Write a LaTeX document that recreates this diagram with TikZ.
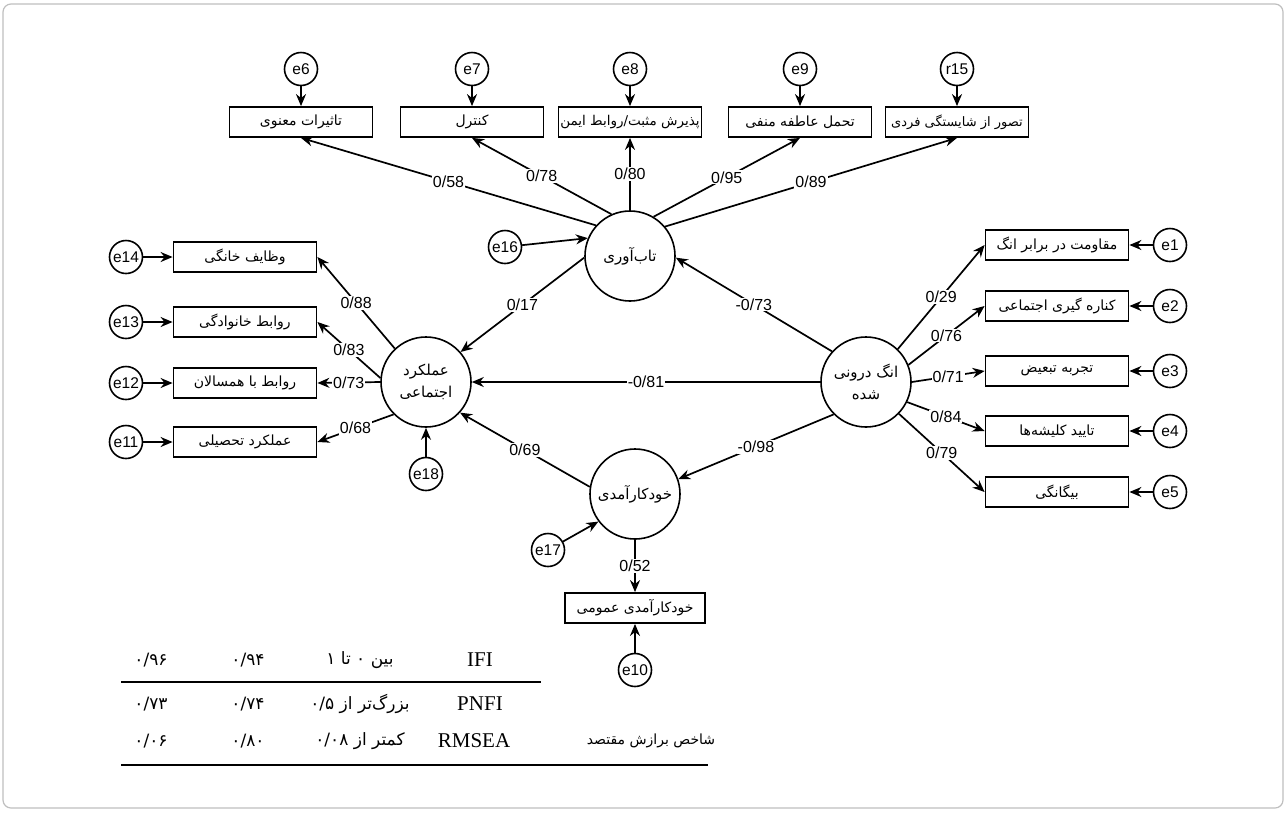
\documentclass[tikz,border=0pt]{standalone}
\usepackage{fontspec}
\setmainfont{Liberation Sans}
\newfontfamily\fafont[Script=Arabic]{DejaVu Sans}
\newfontfamily\latserif{Liberation Serif}
\TeXXeTstate=1
\usetikzlibrary{arrows.meta}
\newcommand\fatxt[1]{\beginR #1\endR}
\newcommand\negv[1]{\hbox{-}#1}
\tikzset{
  lat/.style={circle, draw, line width=1.6pt, minimum size=90pt, inner sep=0pt, align=center, font=\fafont\fontsize{15}{22}\selectfont},
  err/.style={circle, draw, line width=1.6pt, minimum size=33pt, inner sep=0pt, font=\fontsize{15.5}{15.5}\selectfont},
  obs/.style={draw, line width=1.8pt, minimum width=143pt, minimum height=30pt, inner sep=1.5pt, font=\fafont\fontsize{14}{16}\selectfont},
  arr/.style={line width=1.7pt, -{Stealth[length=12pt,width=10pt]}},
  lbl/.style={fill=white, inner sep=1pt, font=\fontsize{16}{16}\selectfont},
  tnum/.style={font=\fafont\fontsize{17}{19}\selectfont, inner sep=0pt},
  tlat/.style={font=\latserif\fontsize{21}{23}\selectfont, inner sep=0pt},
  rule/.style={line width=1.1pt}
}
\begin{document}
\begin{tikzpicture}[x=1pt,y=-1pt]
\useasboundingbox (0,0) rectangle (1287,812);
\draw[gray!50, line width=1.2pt, rounded corners=8pt] (3,4) rectangle (1283,808);

% latent variables
\node[lat] (T) at (630,256) {\fatxt{تاب‌آوری}};
\node[lat] (M) at (426,382) {\fatxt{عملکرد}\\\fatxt{اجتماعی}};
\node[lat] (A) at (866,382) {\fatxt{انگ درونی}\\\fatxt{شده}};
\node[lat] (K) at (635,494) {\fatxt{خودکارآمدی}};

% top indicators
\node[obs] (b6) at (301,122) {\fatxt{تاثیرات معنوی}};
\node[obs] (b7) at (472,122) {\fatxt{کنترل}};
\node[obs, font=\fafont\fontsize{13.5}{16}\selectfont] (b8) at (630,122) {\fatxt{پذیرش مثبت/روابط ایمن}};
\node[obs] (b9) at (800,122) {\fatxt{تحمل عاطفه منفی}};
\node[obs, font=\fafont\fontsize{13}{16}\selectfont] (b15) at (957,122) {\fatxt{تصور از شایستگی فردی}};
\node[err] (e6) at (301,69) {e6};
\node[err] (e7) at (472,69) {e7};
\node[err] (e8) at (630,69) {e8};
\node[err] (e9) at (800,69) {e9};
\node[err] (r15) at (957,69) {r15};

% left indicators
\node[obs] (b14) at (245,257) {\fatxt{وظایف خانگی}};
\node[obs] (b13) at (245,322) {\fatxt{روابط خانوادگی}};
\node[obs] (b12) at (245,383) {\fatxt{روابط با همسالان}};
\node[obs] (b11) at (245,442) {\fatxt{عملکرد تحصیلی}};
\node[err] (e14) at (126,257) {e14};
\node[err] (e13) at (126,322) {e13};
\node[err] (e12) at (126,383) {e12};
\node[err] (e11) at (126,442) {e11};

% right indicators
\node[obs] (b1) at (1057,245) {\fatxt{مقاومت در برابر انگ}};
\node[obs] (b2) at (1057,306) {\fatxt{کناره گیری اجتماعی}};
\node[obs] (b3) at (1057,371) {\fatxt{تجربه تبعیض}};
\node[obs] (b4) at (1057,431) {\fatxt{تایید کلیشه‌ها}};
\node[obs] (b5) at (1057,492) {\fatxt{بیگانگی}};
\node[err] (e1) at (1170,245) {e1};
\node[err] (e2) at (1170,306) {e2};
\node[err] (e3) at (1170,371) {e3};
\node[err] (e4) at (1170,431) {e4};
\node[err] (e5) at (1170,492) {e5};

% bottom indicator
\node[obs, minimum width=140pt] (b10) at (635,608) {\fatxt{خودکارآمدی عمومی}};
\node[err] (e10) at (635,670) {e10};

% disturbances
\node[err] (e16) at (505,247) {e16};
\node[err] (e17) at (548,550) {e17};
\node[err] (e18) at (426,474) {e18};

% loadings of resilience
\draw[arr] (T.138) -- node[lbl]{0/58} (b6.south);
\draw[arr] (T.114) -- node[lbl]{0/78} (b7.south);
\draw[arr] (T.north) -- node[lbl]{0/80} (b8.south);
\draw[arr] (T.59) -- node[lbl]{0/95} (b9.south);
\draw[arr] (T.40) -- node[lbl]{0/89} (b15.south);
\foreach \e/\b in {e6/b6,e7/b7,e8/b8,e9/b9,r15/b15} \draw[arr] (\e) -- (\b);

% loadings of social functioning
\draw[arr] (M.133) -- node[lbl]{0/88} (b14.east);
\draw[arr] (M.175) -- node[lbl]{0/83} (b13.east);
\draw[arr] (M.west) -- node[lbl]{0/73} (b12.east);
\draw[arr] (M.225) -- node[lbl]{0/68} (b11.east);
\foreach \e/\b in {e14/b14,e13/b13,e12/b12,e11/b11} \draw[arr] (\e) -- (\b);

% loadings of internalized stigma
\draw[arr] (A.46) -- node[lbl]{0/29} (b1.west);
\draw[arr] (A.22) -- node[lbl]{0/76} (b2.west);
\draw[arr] (A.east) -- node[lbl]{0/71} (b3.west);
\draw[arr] (A.334) -- node[lbl]{0/84} (b4.west);
\draw[arr] (A.316) -- node[lbl]{0/79} (b5.west);
\foreach \e/\b in {e1/b1,e2/b2,e3/b3,e4/b4,e5/b5} \draw[arr] (\e) -- (\b);

% self-efficacy
\draw[arr] (K.south) -- node[lbl]{0/52} (b10.north);
\draw[arr] (e10) -- (b10);

% structural paths
\draw[arr] (T.182) -- node[lbl]{0/17} (M.41);
\draw[arr] (A.138) -- node[lbl]{\negv{0/73}} (T.358);
\draw[arr] (A.west) -- node[lbl]{\negv{0/81}} (M.east);
\draw[arr] (A.225) -- node[lbl]{\negv{0/98}} (K.19);
\draw[arr] (K.171) -- node[lbl]{0/69} (M.318);
\draw[arr] (e16) -- (T.157);
\draw[arr] (e17) -- (K.217);
\draw[arr] (e18) -- (M.south);

% fit table
\node[tnum] (c11) at (151,660) {۰/۹۶};
\node[tnum] (c12) at (248,660) {۰/۹۴};
\node[tnum] (c13) at (360,660) {\fatxt{بین ۰ تا ۱}};
\node[tlat] (c14) at (480,660) {IFI};
\node[tnum] (c21) at (151,704) {۰/۷۳};
\node[tnum] (c22) at (248,704) {۰/۷۴};
\node[tnum] (c23) at (360,704) {\fatxt{بزرگ‌تر از \beginL ۰/۵\endL}};
\node[tlat] (c24) at (480,704) {PNFI};
\node[tnum] (c31) at (151,741) {۰/۰۶};
\node[tnum] (c32) at (248,741) {۰/۸۰};
\node[tnum] (c33) at (360,741) {\fatxt{کمتر از \beginL ۰/۰۸\endL}};
\node[tlat] (c34) at (474,741) {RMSEA};
\node[tnum, font=\fafont\fontsize{14}{16}\selectfont] (c35) at (651,741) {\fatxt{شاخص برازش مقتصد}};
\coordinate (l1a) at (121,682);
\coordinate (l1b) at (541,682);
\coordinate (l2a) at (121,765);
\coordinate (l2b) at (708,765);
\draw[rule] (l1a) -- (l1b);
\draw[rule] (l2a) -- (l2b);
\end{tikzpicture}
\end{document}
